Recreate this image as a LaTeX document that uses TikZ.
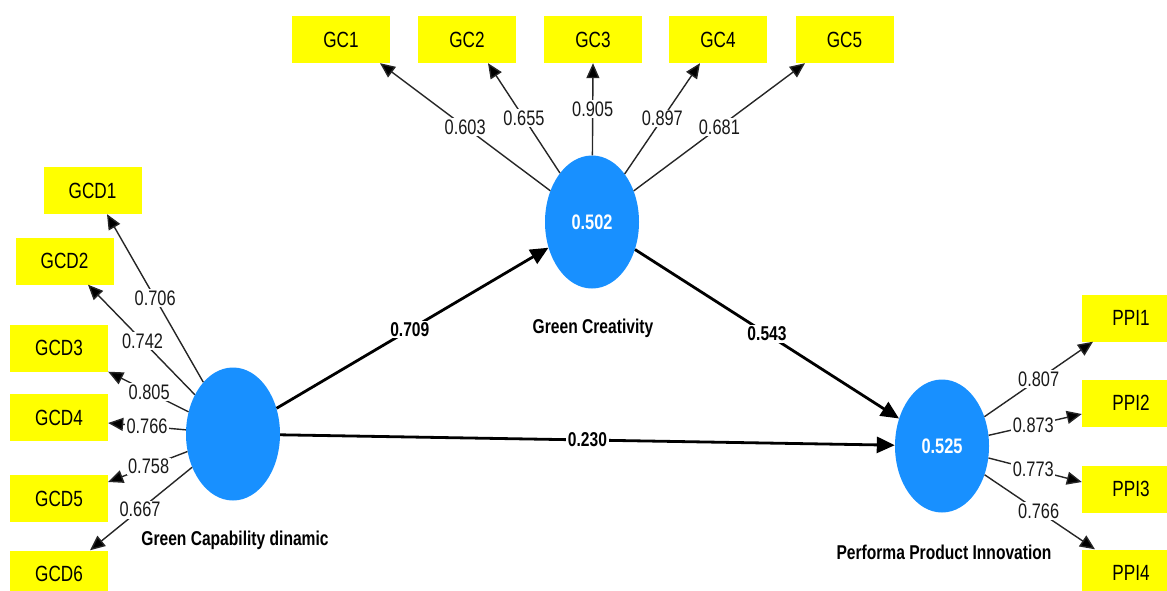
\documentclass[tikz,border=0pt]{standalone}
\usepackage{fontspec}
\setmainfont{Liberation Sans}[FakeStretch=0.78]
\usetikzlibrary{shapes.geometric,arrows.meta}
\definecolor{lvblue}{RGB}{24,144,255}
\definecolor{indyellow}{RGB}{255,255,0}
\begin{document}
\begin{tikzpicture}[x=1pt,y=-1pt,
  latent/.style={ellipse, fill=lvblue, minimum width=94pt, minimum height=133pt,
    inner sep=0pt, text=white, font=\fontsize{21}{21}\selectfont\bfseries},
  indicator/.style={rectangle, fill=indyellow, minimum width=98pt, minimum height=47pt,
    inner sep=0pt, font=\fontsize{22}{22}\selectfont},
  loading/.style={draw=black!85, line width=1.4pt, -{Triangle[length=15pt,width=13pt,fill=black]}},
  structural/.style={draw=black, line width=2.8pt, -{Triangle[length=18pt,width=16pt]}},
  coef/.style={fill=white, inner sep=1.5pt, font=\fontsize{21}{21}\selectfont, text=black!90},
  pcoef/.style={fill=white, inner sep=1.5pt, font=\fontsize{20}{20}\selectfont\bfseries},
  lvname/.style={font=\fontsize{20}{20}\selectfont\bfseries}
]
\useasboundingbox (0,0) rectangle (1167,591);

% latent variables
\node[latent] (gcd) at (233,434) {};
\node[latent] (gc)  at (592,222) {0.502};
\node[latent] (ppi) at (942,446) {0.525};

\node[lvname] (gcdname) at (235,540) {Green Capability dinamic};
\node[lvname] (gcname)  at (593,328) {Green Creativity};
\node[lvname] (ppiname) at (944,552) {Performa Product Innovation};

% indicators of Green Capability dinamic
\node[indicator] (gcd1) at (92.5,190.5) {GCD1};
\node[indicator] (gcd2) at (64.5,261) {GCD2};
\node[indicator] (gcd3) at (59,348) {GCD3};
\node[indicator] (gcd4) at (59,417.5) {GCD4};
\node[indicator] (gcd5) at (59,498.5) {GCD5};
\node[indicator] (gcd6) at (59,574) {GCD6};

% indicators of Green Creativity
\node[indicator] (gc1) at (341,39.5) {GC1};
\node[indicator] (gc2) at (467,39.5) {GC2};
\node[indicator] (gc3) at (593,39.5) {GC3};
\node[indicator] (gc4) at (718,39.5) {GC4};
\node[indicator] (gc5) at (844.5,39.5) {GC5};

% indicators of Performa Product Innovation
\node[indicator] (ppi1) at (1131,318) {PPI1};
\node[indicator] (ppi2) at (1131,403) {PPI2};
\node[indicator] (ppi3) at (1131,489) {PPI3};
\node[indicator] (ppi4) at (1131,573) {PPI4};

% outer loadings
\draw[loading] (gcd) -- ([xshift=14.5pt]gcd1.south) node[coef,pos=0.5] {0.706};
\draw[loading] (gcd) -- ([xshift=23.5pt]gcd2.south) node[coef,pos=0.49] {0.742};
\draw[loading] (gcd) -- (gcd3.south east) node[coef,pos=0.49] {0.805};
\draw[loading] (gcd) -- ([yshift=-5.5pt]gcd4.east) node[coef,pos=0.5] {0.766};
\draw[loading] (gcd) -- ([yshift=16.5pt]gcd5.east) node[coef,pos=0.49] {0.758};
\draw[loading] (gcd) -- ([xshift=31pt]gcd6.north) node[coef,pos=0.51] {0.667};

\draw[loading] (gc) -- ([xshift=39pt]gc1.south) node[coef,pos=0.5] {0.603};
\draw[loading] (gc) -- ([xshift=21pt]gc2.south) node[coef,pos=0.5] {0.655};
\draw[loading] (gc) -- (gc3.south) node[coef,pos=0.5] {0.905};
\draw[loading] (gc) -- ([xshift=-18pt]gc4.south) node[coef,pos=0.5] {0.897};
\draw[loading] (gc) -- ([xshift=-39.5pt]gc5.south) node[coef,pos=0.5] {0.681};

\draw[loading] (ppi) -- ([xshift=-38pt]ppi1.south) node[coef,pos=0.5] {0.807};
\draw[loading] (ppi) -- ([yshift=-11pt]ppi2.west) node[coef,pos=0.48] {0.873};
\draw[loading] (ppi) -- ([yshift=7pt]ppi3.west) node[coef,pos=0.48] {0.773};
\draw[loading] (ppi) -- ([xshift=-36pt]ppi4.north) node[coef,pos=0.49] {0.766};

% path coefficients
\draw[structural] (gcd) -- (gc) node[pcoef,pos=0.49] {0.709};
\draw[structural] (gc) -- (ppi) node[pcoef,pos=0.5] {0.543};
\draw[structural] (gcd) -- (ppi) node[pcoef,pos=0.5] {0.230};
\end{tikzpicture}
\end{document}
